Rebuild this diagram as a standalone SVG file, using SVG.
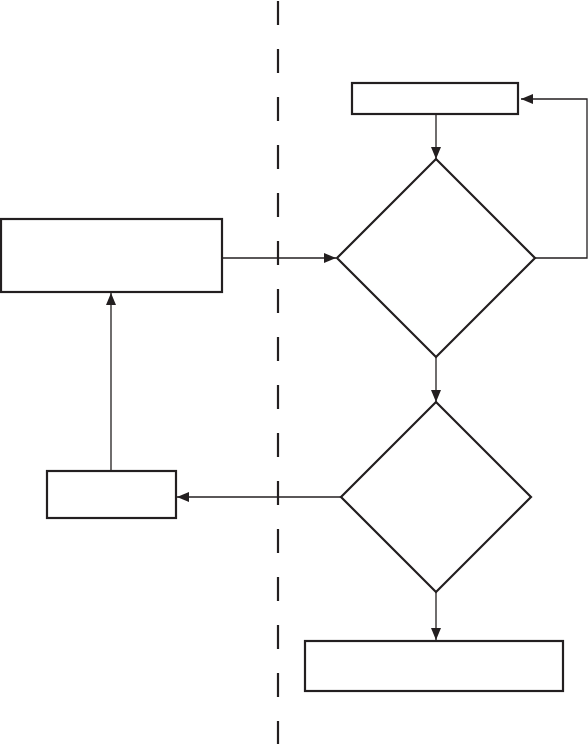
<svg xmlns="http://www.w3.org/2000/svg" width="588" height="744" viewBox="0 0 588 744">
<style>
.shape{fill:#fff;stroke:#231f20;stroke-width:2.2}
.conn{fill:none;stroke:#231f20;stroke-width:1.3}
.divider{stroke:#231f20;stroke-width:2.2;stroke-dasharray:24 24}
</style>
<defs>
<marker id="arr" viewBox="0 0 12 10" refX="12" refY="5" markerWidth="12" markerHeight="10" markerUnits="userSpaceOnUse" orient="auto">
<path d="M0,0 L12,5 L0,10 Z" fill="#231f20"/>
</marker>
</defs>
<rect width="588" height="744" fill="#fff"/>
<line class="divider" x1="278" y1="1" x2="278" y2="744"/>
<g id="connectors">
<line class="conn" x1="436" y1="114" x2="436" y2="159" marker-end="url(#arr)"/>
<polyline class="conn" points="535,258 587,258 587,99 521,99" marker-end="url(#arr)"/>
<line class="conn" x1="222" y1="258" x2="336" y2="258" marker-end="url(#arr)"/>
<line class="conn" x1="436" y1="357" x2="436" y2="402" marker-end="url(#arr)"/>
<line class="conn" x1="341" y1="497" x2="177" y2="497" marker-end="url(#arr)"/>
<line class="conn" x1="111" y1="471" x2="111" y2="293" marker-end="url(#arr)"/>
<line class="conn" x1="436" y1="592" x2="436" y2="640" marker-end="url(#arr)"/>
</g>
<g id="node-top-rect"><rect class="shape" x="352" y="83" width="166" height="31"/></g>
<g id="node-diamond1"><polygon class="shape" points="436,159 535,258 436,357 337,258"/></g>
<g id="node-left-rect"><rect class="shape" x="1" y="219" width="221" height="73"/></g>
<g id="node-diamond2"><polygon class="shape" points="436,402 531,497 436,592 341,497"/></g>
<g id="node-small-rect"><rect class="shape" x="47" y="471" width="129" height="47"/></g>
<g id="node-bottom-rect"><rect class="shape" x="305" y="641" width="258" height="50"/></g>
</svg>
